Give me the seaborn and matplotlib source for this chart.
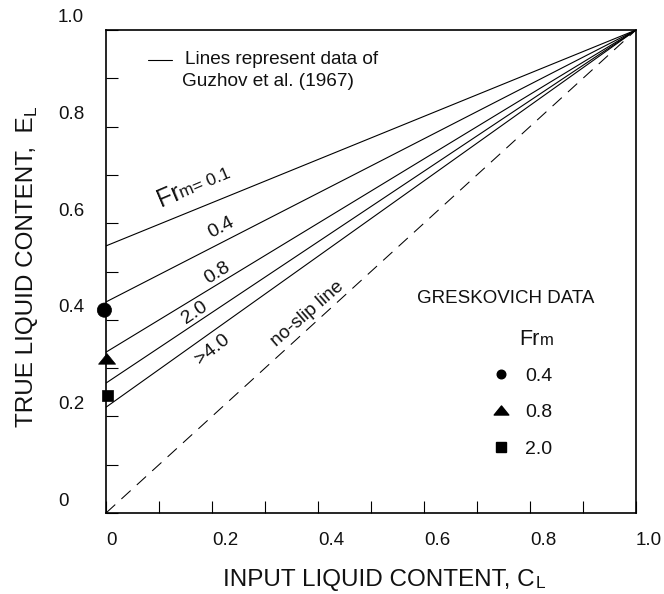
import numpy as np
import pandas as pd
import matplotlib
matplotlib.use("Agg")
import matplotlib.pyplot as plt
import matplotlib.transforms as mtransforms
from matplotlib.lines import Line2D
from matplotlib.path import Path
import seaborn as sns

# ---------------- data ----------------
# Guzhov et al. (1967) lines (true liquid content E_L vs input liquid content C_L)
guzhov_fr = ["0.1", "0.4", "0.8", "2.0", ">4.0"]
guzhov_cl = [0.0, 1.0]
guzhov_e_start = [0.553, 0.437, 0.333, 0.269, 0.219]
guzhov_e_end = [1.0, 1.0, 1.0, 1.0, 1.0]

# no-slip line
noslip_cl = [0.0, 1.0]
noslip_e = [0.0, 1.0]

# Greskovich data
gresk_fr = ["0.4", "0.8", "2.0"]
gresk_cl = [-0.003, 0.002, 0.002]
gresk_e = [0.420, 0.319, 0.244]

tick_vals = [0.0, 0.1, 0.2, 0.3, 0.4, 0.5, 0.6, 0.7, 0.8, 0.9, 1.0]
tick_labels = ["0", "", "0.2", "", "0.4", "", "0.6", "", "0.8", "", "1.0"]

# ---------------- style ----------------
sns.set_theme(style="white")
plt.rcParams["font.family"] = ["Liberation Sans", "DejaVu Sans"]
plt.rcParams["axes.edgecolor"] = "black"

fig = plt.figure(figsize=(6.64, 5.94), dpi=100)
ax = fig.add_axes([106 / 664, 1 - 513 / 594, (636 - 106) / 664, (513 - 30) / 594])

guz_df = pd.DataFrame({
    "Fr": np.repeat(guzhov_fr, 2),
    "C": np.tile(guzhov_cl, len(guzhov_fr)),
    "E": np.ravel(np.column_stack([guzhov_e_start, guzhov_e_end])),
})
sns.lineplot(data=guz_df, x="C", y="E", units="Fr", estimator=None,
             color="black", linewidth=0.8, ax=ax, legend=False)

ns_df = pd.DataFrame({"C": noslip_cl, "E": noslip_e})
sns.lineplot(data=ns_df, x="C", y="E", color="black", linewidth=0.75,
             ax=ax, legend=False, dashes=False)
ax.lines[-1].set_dashes((12, 8))

tri = Path([(-1.0, -0.62), (1.0, -0.62), (0.0, 0.62), (-1.0, -0.62)],
           [Path.MOVETO, Path.LINETO, Path.LINETO, Path.CLOSEPOLY])
gr_df = pd.DataFrame({"Fr": gresk_fr, "C": gresk_cl, "E": gresk_e})
sns.scatterplot(data=gr_df, x="C", y="E", style="Fr", size="Fr",
                markers={"0.4": "o", "0.8": tri, "2.0": "s"},
                sizes={"0.4": 105, "0.8": 150, "2.0": 62},
                color="black", edgecolor="black", linewidth=0.5,
                ax=ax, legend=False, clip_on=False, zorder=5)

# ---------------- axes ----------------
ax.set_xlim(0, 1)
ax.set_ylim(0, 1)
ax.set_xticks(tick_vals)
ax.set_xticklabels(tick_labels)
ax.set_yticks(tick_vals)
ax.set_yticklabels(tick_labels)
ax.tick_params(axis="both", which="major", direction="in", length=8.6, width=0.8,
               color="black", labelsize=13.5, labelcolor="#111111",
               bottom=True, left=True, top=False, right=False)
ax.tick_params(axis="x", pad=14)
ax.tick_params(axis="y", pad=34.6)
for sp in ax.spines.values():
    sp.set_linewidth(1.2)
    sp.set_color("black")

for lab in ax.get_xticklabels():
    lab.set_horizontalalignment("left")
for lab in ax.get_yticklabels():
    lab.set_horizontalalignment("left")
    lab.set_transform(lab.get_transform() +
                      mtransforms.ScaledTranslation(0, 0.14, fig.dpi_scale_trans))

ax.set_xlabel("INPUT LIQUID CONTENT, C", fontsize=17.5, color="#111111")
ax.set_ylabel("TRUE LIQUID CONTENT,  E", fontsize=17.5, color="#111111")
ax.xaxis.set_label_coords(0.515, -0.115)
ax.yaxis.set_label_coords(-0.128, 0.5)

xl = ax.xaxis.label
yl = ax.yaxis.label
ax.annotate("L", xy=(1, 0), xycoords=xl, xytext=(0.5, 0), textcoords="offset points",
            ha="left", va="bottom", fontsize=12.5, color="#111111")
ax.annotate("L", xy=(1, 1), xycoords=yl, xytext=(0, 0.5), textcoords="offset points",
            ha="right", va="bottom", rotation=90, fontsize=12.5, color="#111111")

# ---------------- annotations ----------------
ax.plot([0.079, 0.124], [0.938, 0.938], color="black", lw=0.8, transform=ax.transAxes)
ax.text(0.149, 0.938, "Lines represent data of", fontsize=13.7, ha="left",
        va="center", transform=ax.transAxes, color="#111111")
ax.text(0.143, 0.893, "Guzhov et al. (1967)", fontsize=13.7, ha="left",
        va="center", transform=ax.transAxes, color="#111111")

# Fr labels along the lines
ang0 = 23
ax.text(0.104, 0.634, "Fr", fontsize=18, rotation=ang0, rotation_mode="anchor",
        ha="left", va="baseline", color="#111111")
ax.annotate("m= 0.1", xy=(0.104, 0.634), xytext=(16.5 * np.cos(np.radians(ang0)),
            16.5 * np.sin(np.radians(ang0))), textcoords="offset points",
            fontsize=12.5, rotation=ang0, rotation_mode="anchor",
            ha="left", va="baseline", color="#111111")

line_labels = [("0.4", 0.217, 0.590, 28), ("0.8", 0.211, 0.497, 32),
               ("2.0", 0.168, 0.414, 34), (">4.0", 0.2015, 0.338, 38)]
for txt, x, y, a in line_labels:
    ax.text(x, y, txt, fontsize=14, rotation=a, rotation_mode="anchor",
            ha="center", va="center", color="#111111")

ax.text(0.380, 0.412, "no-slip line", fontsize=13.7, rotation=41,
        rotation_mode="anchor", ha="center", va="center", color="#111111")

# Greskovich legend
ax.text(0.5876, 0.445, "GRESKOVICH DATA", fontsize=13.5, ha="left", va="center",
        color="#111111")
ax.text(0.780, 0.364, "Fr", fontsize=15.5, ha="left", va="center_baseline",
        color="#111111")
ax.annotate("m", xy=(0.780, 0.364), xytext=(14.6, -1), textcoords="offset points",
            fontsize=12, ha="left", va="center_baseline", color="#111111")

handles = [
    Line2D([], [], ls="none", marker="o", color="black", markersize=6.2),
    Line2D([], [], ls="none", marker=tri, color="black", markersize=10.5),
    Line2D([], [], ls="none", marker="s", color="black", markersize=6.8),
]
leg = ax.legend(handles, gresk_fr, loc="upper left",
                bbox_to_anchor=(491 / 664, 1 - 367 / 594),
                bbox_transform=fig.transFigure, frameon=False, fontsize=14,
                handlelength=1.0, handletextpad=0.74, labelspacing=0.98,
                borderpad=0, borderaxespad=0)
for t in leg.get_texts():
    t.set_color("#111111")

fig.savefig("out.png", dpi=100)
